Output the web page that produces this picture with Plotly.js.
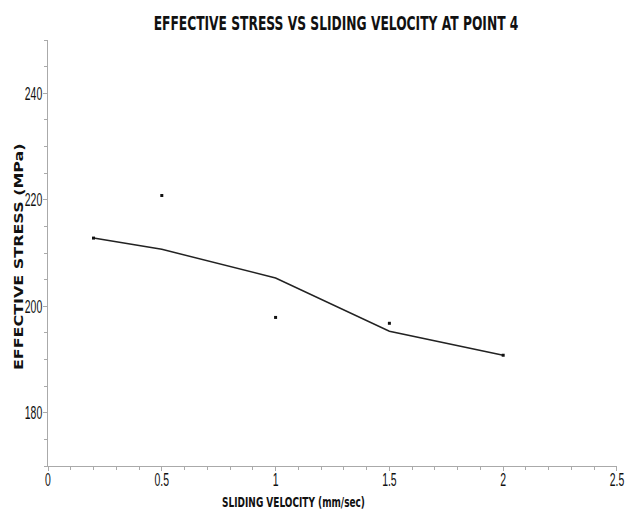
<!DOCTYPE html>
<html>
<head>
<meta charset="utf-8">
<script src="https://cdn.plot.ly/plotly-3.0.1.min.js"></script>
<style>html,body{margin:0;padding:0;background:#fff;}#chart{width:626px;height:511px;}</style>
</head>
<body>
<div id="chart"></div>
<script>
// Measured data points (markers)
const velocity = [0.2, 0.5, 1.0, 1.5, 2.0];
const stress = [212.8, 220.8, 197.9, 196.8, 190.8];
// Fitted trend line
const fitVelocity = [0.2, 0.5, 1.0, 1.5, 2.0];
const fitStress = [212.8, 210.7, 205.3, 195.3, 190.8];

const titleText = 'EFFECTIVE STRESS VS SLIDING VELOCITY AT POINT 4';
const xTitle = 'SLIDING VELOCITY (mm/sec)';
const yTitle = 'EFFECTIVE STRESS (MPa)';

const boldFont = 'DejaVu Sans, Verdana, sans-serif';
const tickFontFamily = 'Liberation Sans, Arial, sans-serif';

const traces = [
  {
    x: fitVelocity, y: fitStress, type: 'scatter', mode: 'lines',
    line: {color: '#222', width: 1.5}, hoverinfo: 'skip'
  },
  {
    x: velocity, y: stress, type: 'scatter', mode: 'markers',
    marker: {color: '#111', size: 3, symbol: 'square'}
  }
];

const axisCommon = {
  showgrid: false, zeroline: false, showline: true,
  linecolor: '#aaa', linewidth: 1,
  ticks: 'outside', ticklen: 4, tickcolor: '#aaa', tickwidth: 1,
  ticklabeloverflow: 'allow',
  tickfont: {family: tickFontFamily, size: 19, color: '#111'}
};

const layout = {
  width: 626, height: 511,
  margin: {l: 48, r: 9, t: 40, b: 45},
  paper_bgcolor: '#fff', plot_bgcolor: '#fff',
  showlegend: false,
  title: {
    text: '<b>' + titleText + '</b>',
    font: {family: boldFont, size: 19, color: '#111'},
    x: 336 / 626, xanchor: 'center', y: 1 - 23 / 511, yanchor: 'middle'
  },
  xaxis: Object.assign({}, axisCommon, {
    range: [0, 2.5001], dtick: 0.5, tick0: 0,
    minor: {dtick: 0.1, ticks: 'outside', ticklen: 3, tickcolor: '#aaa', showgrid: false}
  }),
  yaxis: Object.assign({}, axisCommon, {
    range: [170, 250], dtick: 20, tick0: 180,
    minor: {dtick: 5, ticks: 'outside', ticklen: 3, tickcolor: '#aaa', showgrid: false}
  }),
  annotations: [
    {
      text: '<b>' + xTitle + '</b>', xref: 'paper', yref: 'paper',
      x: (293 - 48) / 569, y: (466 - 502) / 426, xanchor: 'center', yanchor: 'middle',
      showarrow: false, font: {family: boldFont, size: 14.5, color: '#111'}
    },
    {
      text: '<b>' + yTitle + '</b>', xref: 'paper', yref: 'paper', textangle: -90,
      x: (19 - 48) / 569, y: (466 - 257) / 426, xanchor: 'center', yanchor: 'middle',
      showarrow: false, font: {family: boldFont, size: 12, color: '#111'}
    }
  ]
};

function squeeze(el, sx, anchor, dx, dy) {
  const b = el.getBBox();
  if (!b.width) return;
  const cx = anchor === 'end' ? b.x + b.width : (anchor === 'start' ? b.x : b.x + b.width / 2);
  const cy = b.y + b.height / 2;
  const t = el.getAttribute('transform') || '';
  el.setAttribute('transform', t + ' translate(' + (cx + (dx || 0)) + ',' + (cy + (dy || 0)) + ') scale(' + sx + ',1) translate(' + (-cx) + ',' + (-cy) + ')');
}
function fitWidth(el, target, anchor) {
  const b = el.getBBox();
  if (b.width) squeeze(el, target / b.width, anchor, 0, 0);
}

Plotly.newPlot('chart', traces, layout, {displayModeBar: false, staticPlot: true}).then(function (gd) {
  const t = gd.querySelector('.gtitle');
  if (t) fitWidth(t, 365, 'middle');
  const anns = gd.querySelectorAll('.annotation-text');
  if (anns[0]) fitWidth(anns[0], 143, 'middle');
  if (anns[1]) fitWidth(anns[1], 227, 'middle');
  gd.querySelectorAll('.xtick text').forEach(function (el) { squeeze(el, 0.55, 'middle', 0, -8); });
  gd.querySelectorAll('.ytick text').forEach(function (el) { squeeze(el, 0.55, 'end', 3, 0); });
});
</script>
</body>
</html>
